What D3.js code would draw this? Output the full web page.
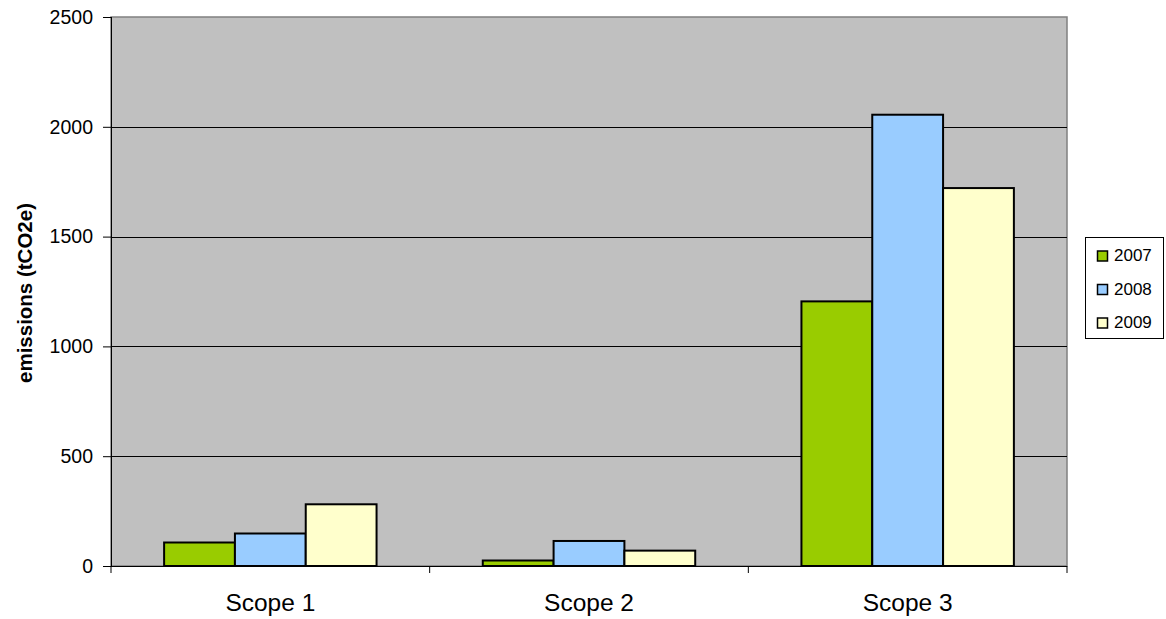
<!DOCTYPE html>
<html>
<head>
<meta charset="utf-8">
<script src="https://cdn.jsdelivr.net/npm/d3@7"></script>
<style>
  body { margin: 0; background: #fff; }
  svg { display: block; font-family: "Liberation Sans", Arial, sans-serif; }
</style>
</head>
<body>
<svg id="chart" width="1166" height="619"></svg>
<script>
"use strict";

// chart data
const categories = ["Scope 1", "Scope 2", "Scope 3"];
const years = ["2007", "2008", "2009"];
const values2007 = [107, 25, 1205];
const values2008 = [148, 114, 2055];
const values2009 = [281, 70, 1721];
const yTicks = [0, 500, 1000, 1500, 2000, 2500];
const colors = ["#99CC00", "#99CCFF", "#FFFFCC"];

const seriesValues = [values2007, values2008, values2009];

const margin = { left: 111, top: 17, right: 99, bottom: 53 };
const WIDTH = 1166, HEIGHT = 619;
const plotW = WIDTH - margin.left - margin.right;
const plotH = HEIGHT - margin.top - margin.bottom;

const svg = d3.select("#chart");
const g = svg.append("g").attr("transform", "translate(" + margin.left + "," + margin.top + ")");

const x0 = d3.scaleBand().domain(categories).range([0, plotW]).paddingInner(0).paddingOuter(0);
// excel style gap width 150%: bar = band / 4.5
const groupW = x0.bandwidth() * 3 / 4.5;
const x1 = d3.scaleBand().domain(years).range([0, groupW]).padding(0);
const y = d3.scaleLinear().domain([0, 2500]).range([plotH, 0]);

// plot background
g.append("rect")
  .attr("width", plotW).attr("height", plotH)
  .attr("fill", "#C0C0C0")
  .attr("stroke", "#808080").attr("stroke-width", 1.5);

// gridlines
g.selectAll(".grid")
  .data(yTicks.filter(d => d > 0 && d < 2500))
  .enter().append("line")
  .attr("x1", 0).attr("x2", plotW)
  .attr("y1", d => Math.round(y(d)) + 0.5).attr("y2", d => Math.round(y(d)) + 0.5)
  .attr("stroke", "#000").attr("stroke-width", 1);

// bars
const groups = g.selectAll(".cat")
  .data(categories)
  .enter().append("g")
  .attr("transform", d => "translate(" + (x0(d) + (x0.bandwidth() - groupW) / 2) + ",0)");

groups.selectAll("rect")
  .data((d, i) => years.map((yr, s) => ({ yr: yr, s: s, v: seriesValues[s][i] })))
  .enter().append("rect")
  .attr("x", d => x1(d.yr))
  .attr("y", d => y(d.v))
  .attr("width", x1.bandwidth())
  .attr("height", d => plotH - y(d.v))
  .attr("fill", d => colors[d.s])
  .attr("stroke", "#000").attr("stroke-width", 2);

// y axis
const yAxis = d3.axisLeft(y).tickValues(yTicks).tickSize(8).tickPadding(10).tickFormat(d3.format("d"));
const yG = g.append("g").call(yAxis);
yG.select(".domain").attr("stroke", "#000").attr("d", "M0.5," + plotH + "V0");
yG.selectAll("text").attr("font-size", 19.5).attr("fill", "#000");

// x axis
const xAxis = d3.axisBottom(x0).tickSize(0).tickPadding(0);
const xG = g.append("g").attr("transform", "translate(0," + plotH + ")").call(xAxis);
xG.select(".domain").attr("stroke", "#000").attr("d", "M0,0.5H" + plotW);
xG.selectAll("text").attr("font-size", 24.5).attr("fill", "#000").attr("dy", null).attr("y", 45);
xG.selectAll(".bound")
  .data(d3.range(categories.length + 1))
  .enter().append("line")
  .attr("x1", i => i * x0.bandwidth()).attr("x2", i => i * x0.bandwidth())
  .attr("y1", 0).attr("y2", 7)
  .attr("stroke", "#000");

// y axis title
svg.append("text")
  .attr("transform", "translate(32," + (margin.top + plotH / 2 + 1.5) + ") rotate(-90)")
  .attr("text-anchor", "middle")
  .attr("font-size", 20.5).attr("font-weight", "bold")
  .text("emissions (tCO2e)");

// legend
const legend = svg.append("g").attr("transform", "translate(1085,237)");
legend.append("rect")
  .attr("x", 0.5).attr("y", 0.5).attr("width", 78).attr("height", 101)
  .attr("fill", "#fff").attr("stroke", "#000");
const item = legend.selectAll(".item")
  .data(years)
  .enter().append("g")
  .attr("transform", (d, i) => "translate(12.5," + (24 + i * 33.5) + ")");
item.append("rect")
  .attr("x", 0).attr("y", -10).attr("width", 10).attr("height", 10)
  .attr("fill", (d, i) => colors[i]).attr("stroke", "#000").attr("stroke-width", 1.5);
item.append("text")
  .attr("x", 16.5).attr("y", 0)
  .attr("font-size", 17).text(d => d);
</script>
</body>
</html>
